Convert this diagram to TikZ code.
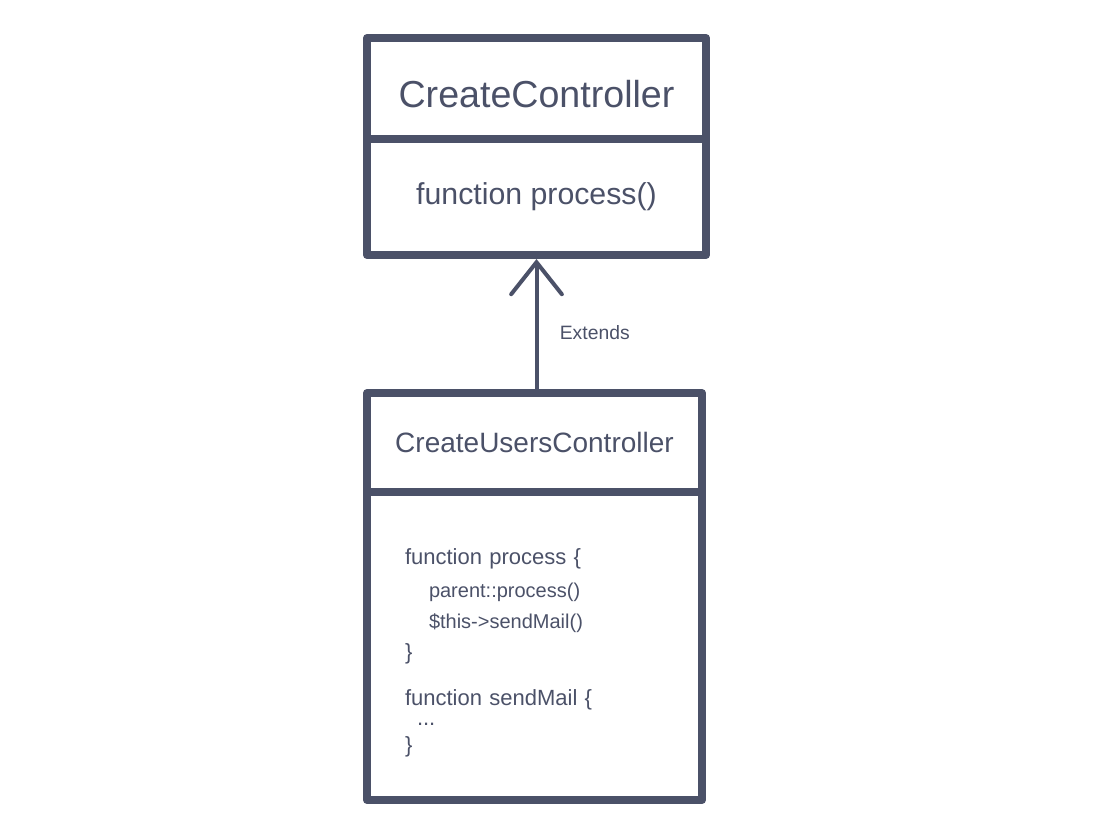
\documentclass[tikz,border=0pt]{standalone}
\usepackage{fontspec}
\setmainfont{Liberation Sans}
\usetikzlibrary{arrows.meta,positioning}
\definecolor{ink}{HTML}{4B5168}
\newcommand{\codesmall}{\fontsize{15pt}{23.25pt}\selectfont}

\begin{document}
\begin{tikzpicture}[x=0.75pt, y=-0.75pt, node distance=0pt,
      >={Straight Barb[length=24pt, width=38pt, line cap=round]},
      every node/.append style={text=ink, inner sep=0pt},
      box/.style={draw=ink, line width=6pt, line join=round, outer sep=0pt}]

     \useasboundingbox (0,0) rectangle (1119,833);

     % parent class
     \node [box, minimum width=254.25pt, minimum height=75.75pt,
            font=\fontsize{28.2pt}{33pt}\selectfont,
            text height=29pt, text depth=0pt] (parent) at (536.5,88.5) {CreateController};
     \node [box, below=of parent, minimum width=254.25pt, minimum height=87pt,
            font=\fontsize{22.7pt}{27pt}\selectfont] (parentfn) {function process()};

     % child class
     \node [box, minimum width=251.25pt, minimum height=74.25pt,
            font=\fontsize{21pt}{25pt}\selectfont] (child) at (534.5,442.5) {CreateUsersController};
     \node [box, below=of child, minimum height=231pt, text width=194.25pt,
            inner xsep=28.5pt, align=left,
            font=\fontsize{16.5pt}{23.25pt}\selectfont] (childfn)
           {\rule{0pt}{22pt}function process \{\\[1.5pt]
            \hspace*{18pt}{\codesmall parent::process()}\\
            \hspace*{18pt}{\codesmall \$this->sendMail()}\\
            \}\\[11.25pt]
            function sendMail \{\\[-8pt]
            \hspace*{9pt}...\\[-3.25pt]
            \}};

     \draw[->, draw=ink, line width=3pt, shorten >=3pt]
          (child.north -| parentfn.south) -- node[right=16pt, pos=0.44,
          font=\fontsize{14.5pt}{17pt}\selectfont] (ext) {Extends} (parentfn.south);
  \end{tikzpicture}
\end{document}
